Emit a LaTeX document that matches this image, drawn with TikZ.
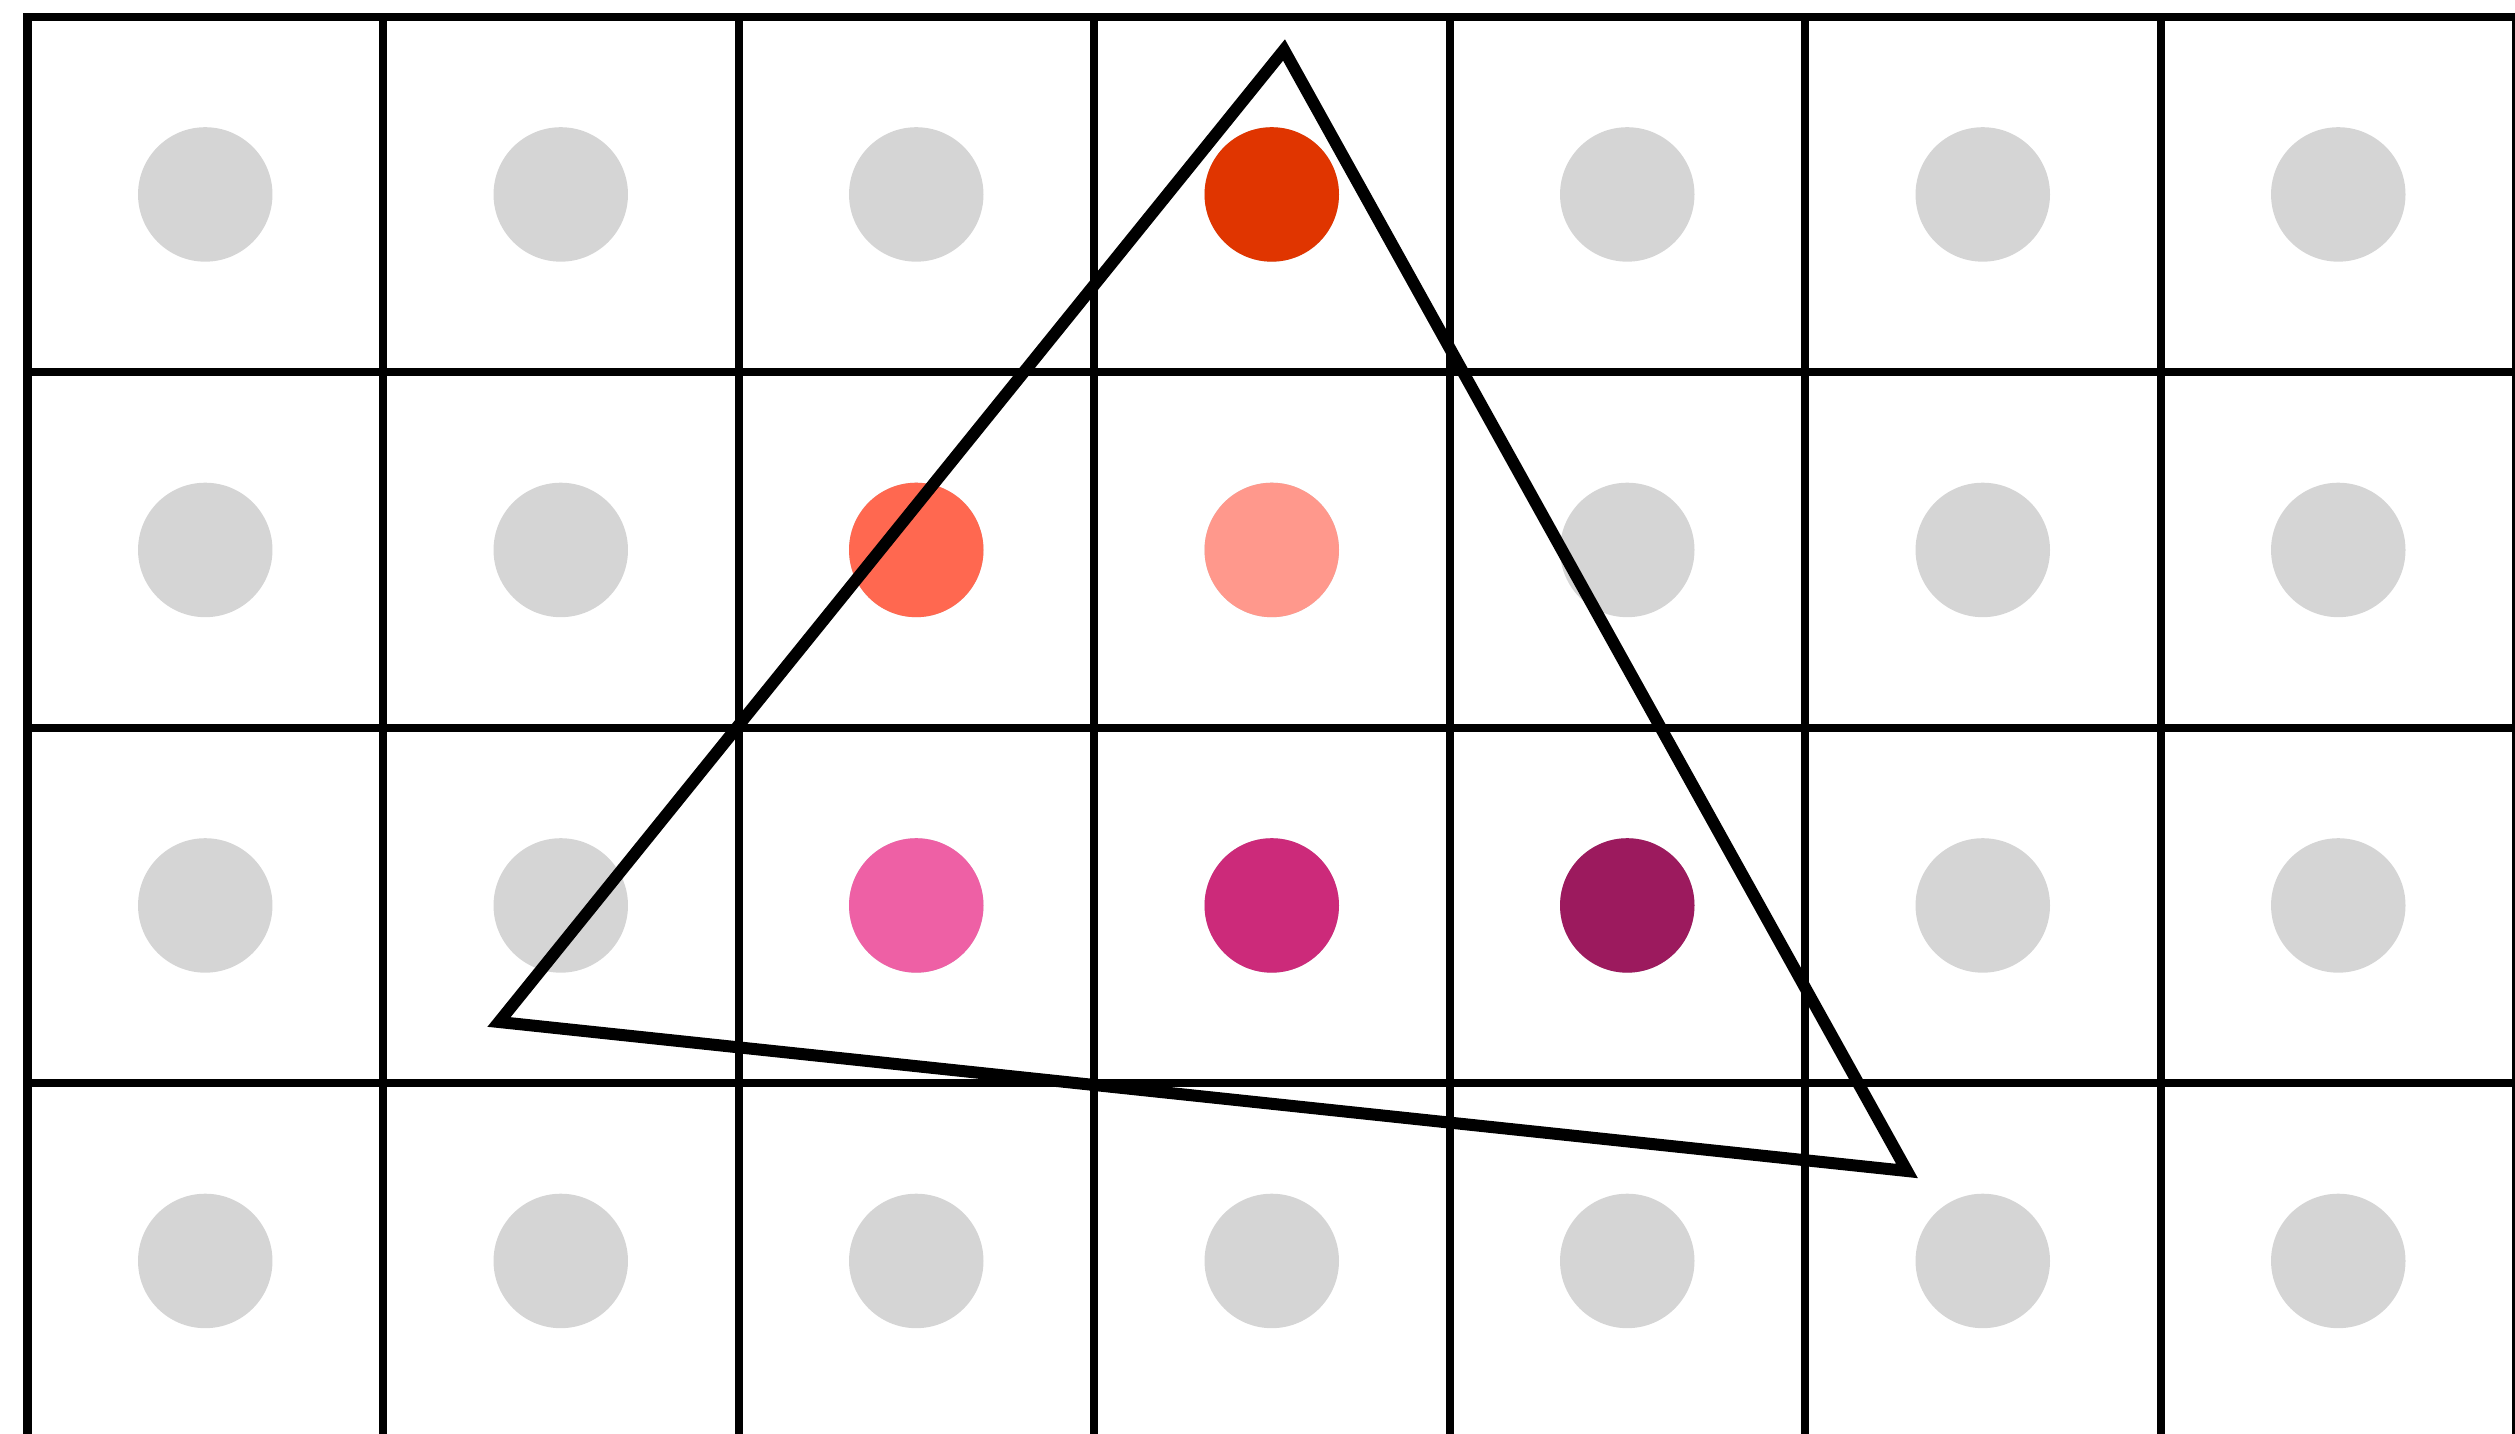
\documentclass[tikz,border=0pt]{standalone}
\begin{document}
\begin{tikzpicture}[x=0.01cm,y=-0.01cm,
  gridline/.style={line width=0.08cm, line cap=rect, black},
  tri/.style={line width=0.12cm, black, line join=miter},
  dot/.style={circle, inner sep=0pt, minimum size=1.344cm, fill=dotgray}]
\definecolor{dotgray}{HTML}{D5D5D5}
\definecolor{cA}{HTML}{E03500}
\definecolor{cB}{HTML}{FF6850}
\definecolor{cC}{HTML}{FF988C}
\definecolor{cD}{HTML}{EE60A5}
\definecolor{cE}{HTML}{CC2A7A}
\definecolor{cF}{HTML}{9C1A5E}
\useasboundingbox (0,0) rectangle (2515,1434);
\clip (0,0) rectangle (2515,1434);
% dots
\foreach \r in {0,...,3}{
  \foreach \c in {0,...,6}{
    \node[dot] (d-\r-\c) at ({27.5+355.5*(\c+0.5)},{16.7+355.5*(\r+0.5)}) {};
  }
}
\node[dot, fill=cA] (d-0-3x) at ({27.5+355.5*3.5},{16.7+355.5*0.5}) {};
\node[dot, fill=cB] (d-1-2x) at ({27.5+355.5*2.5},{16.7+355.5*1.5}) {};
\node[dot, fill=cC] (d-1-3x) at ({27.5+355.5*3.5},{16.7+355.5*1.5}) {};
\node[dot, fill=cD] (d-2-2x) at ({27.5+355.5*2.5},{16.7+355.5*2.5}) {};
\node[dot, fill=cE] (d-2-3x) at ({27.5+355.5*3.5},{16.7+355.5*2.5}) {};
\node[dot, fill=cF] (d-2-4x) at ({27.5+355.5*4.5},{16.7+355.5*2.5}) {};
% grid
\foreach \i in {0,...,7}{
  \draw[gridline] ({27.5+355.5*\i},16.7) -- ({27.5+355.5*\i},1500);
}
\foreach \j in {0,...,3}{
  \draw[gridline] (27.5,{16.7+355.5*\j}) -- (2600,{16.7+355.5*\j});
}
% triangle
\coordinate (A) at (1284,50);
\coordinate (B) at (499,1022);
\coordinate (C) at (1907,1171);
\draw[tri] (A) -- (B) -- (C) -- cycle;
\end{tikzpicture}
\end{document}
